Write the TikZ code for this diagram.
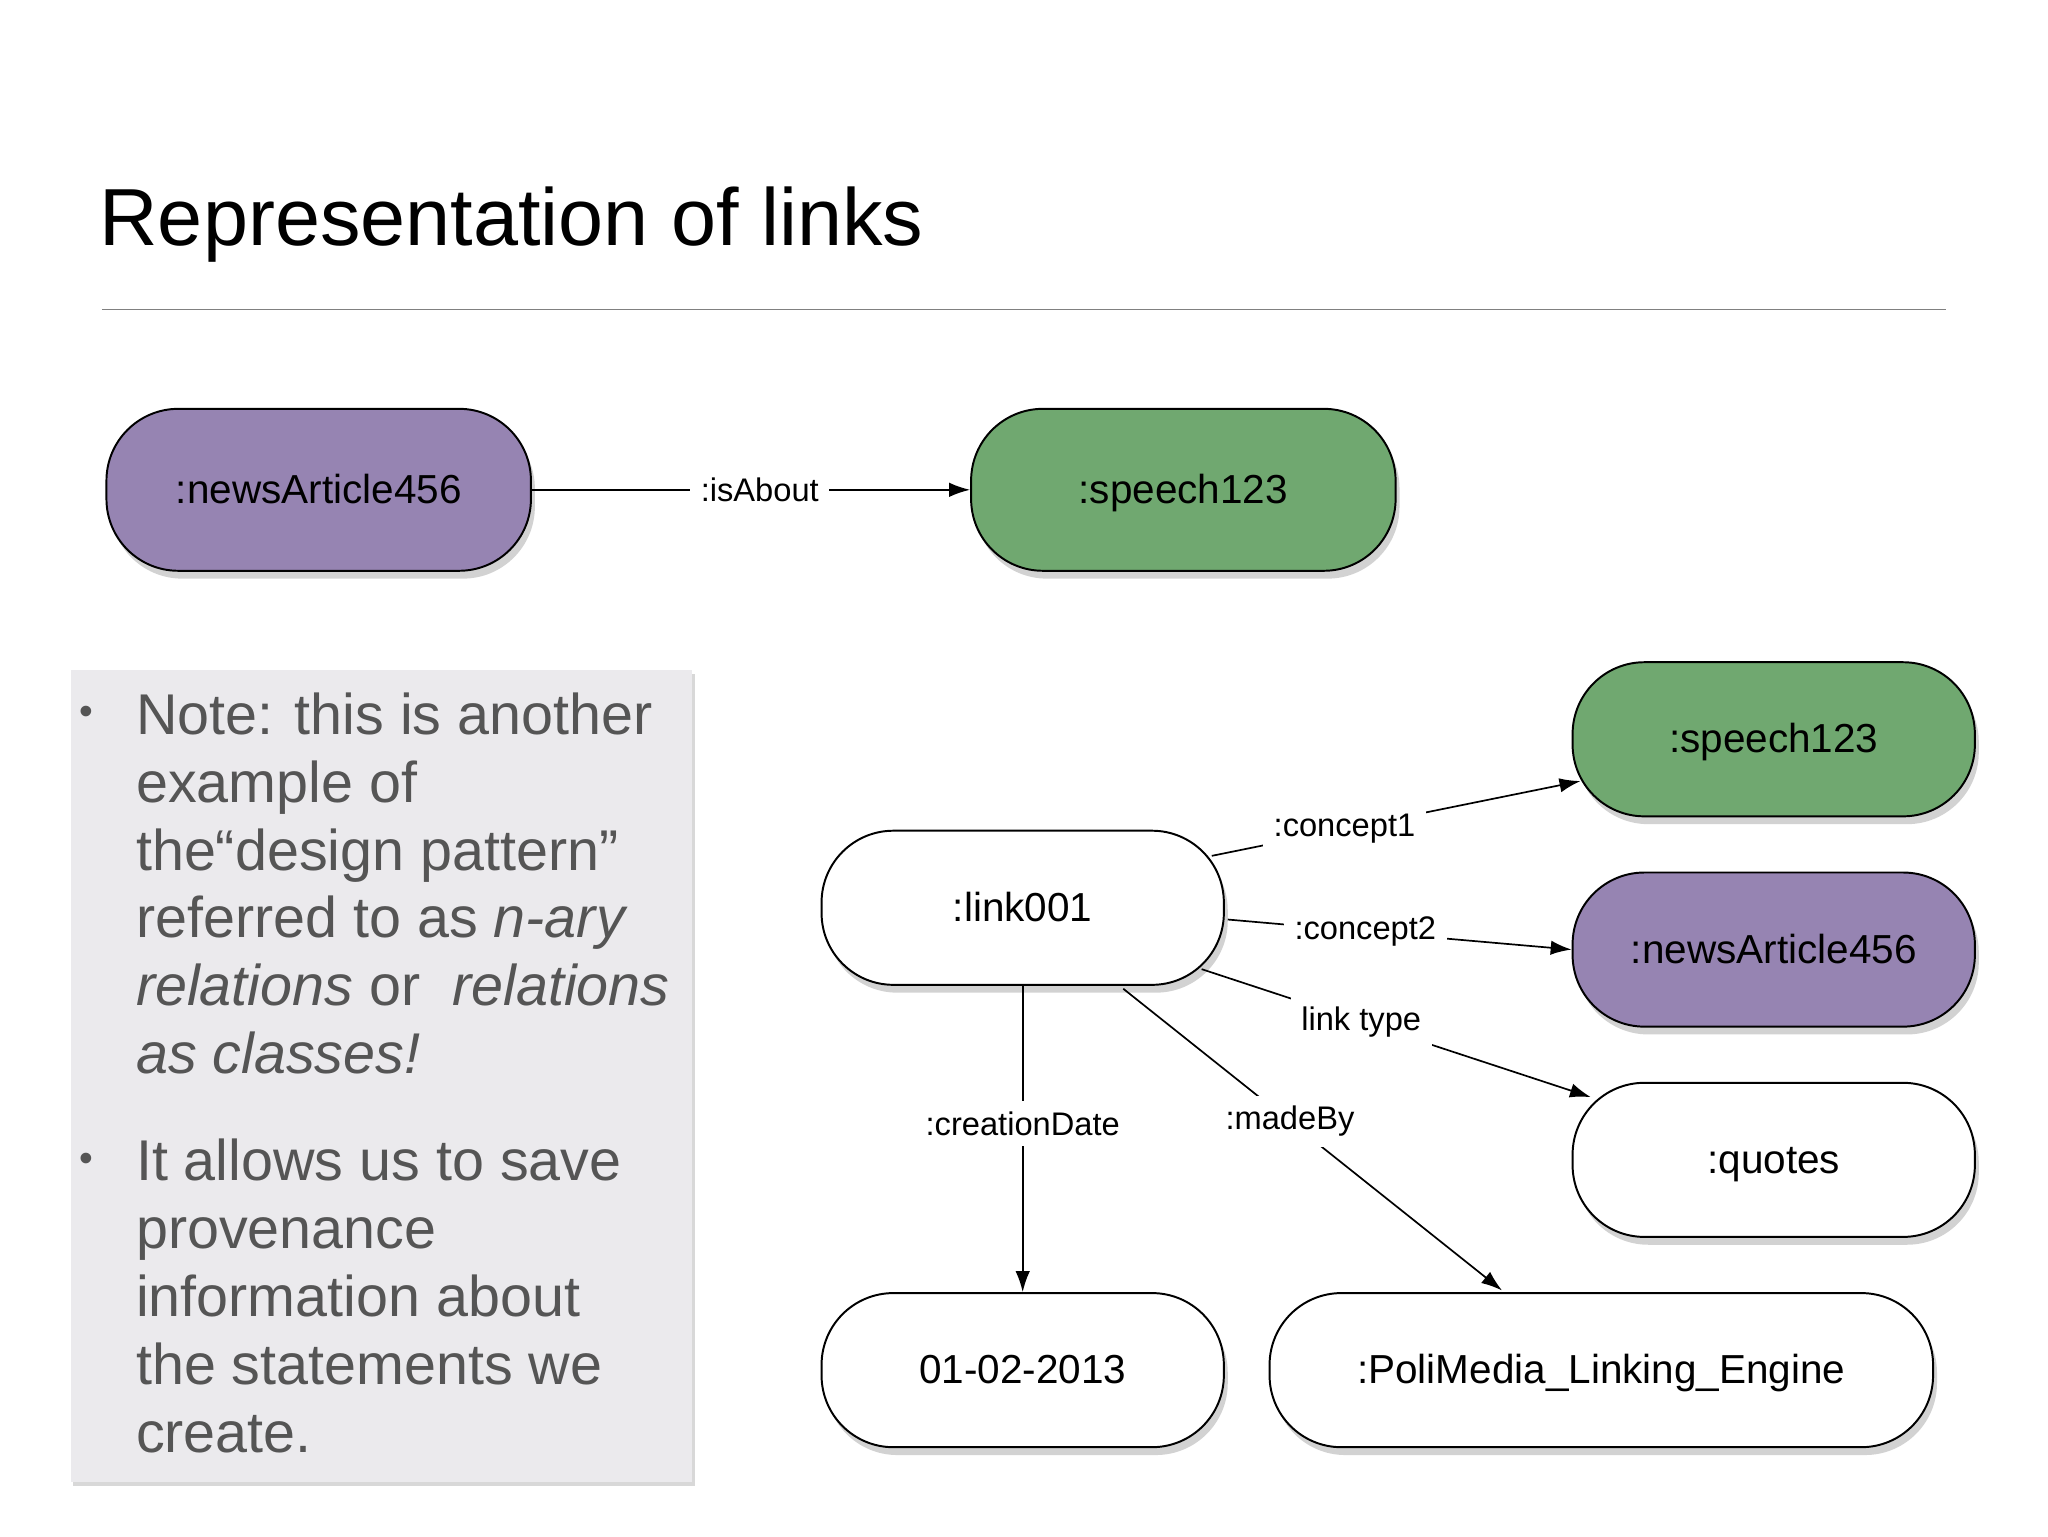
\documentclass[tikz,border=0pt]{standalone}
\usepackage{fontspec}
\setmainfont{Liberation Sans}
\usetikzlibrary{shadows,arrows.meta}
\definecolor{purp}{RGB}{150,132,178}
\definecolor{grn}{RGB}{112,168,112}
\definecolor{boxg}{RGB}{235,234,237}
\definecolor{txtg}{RGB}{85,85,85}
\begin{document}
\begin{tikzpicture}[x=1pt,y=-1pt,
  pill/.style={draw=black,line width=1.5pt,rounded corners=55pt,minimum height=118pt,minimum width=308pt,text height=22pt,text depth=1pt,font=\fontsize{31}{36}\selectfont,drop shadow={shadow xshift=3pt,shadow yshift=-6pt,opacity=0.35}},
  lbl/.style={fill=white,font=\fontsize{25}{29}\selectfont,inner sep=8pt},
  arr/.style={line width=1.3pt,-{Latex[length=16pt,width=11pt]}},
  btxt/.style={anchor=north west,align=left,text=txtg,font=\fontsize{44}{52}\selectfont,inner sep=0pt}]
\useasboundingbox (0,0) rectangle (1568,1176);
\fill[white] (0,0) rectangle (1568,1176);
\node[anchor=base west,inner sep=0pt,font=\fontsize{62}{68}\selectfont] (title) at (76,188) {Representation of links};
\draw[gray,line width=1pt] (78,237) -- (1490,237);
\node[fill=boxg,minimum width=476pt,minimum height=622pt,drop shadow={shadow xshift=2pt,shadow yshift=-3pt,opacity=0.3}] (box) at (292,824) {};
\node[text=txtg,font=\fontsize{30}{30}\selectfont] (b1) at (66,548) {•};
\node[text=txtg,font=\fontsize{30}{30}\selectfont] (b2) at (66,890) {•};
\node[btxt] (t1) at (104,530) {Note: this is another\\example of\\the“design pattern”\\referred to as \textit{n-ary}\\\textit{relations} or\ \ \textit{relations}\\\textit{as classes!}};
\node[btxt] (t2) at (104,872) {It allows us to save\\provenance\\information about\\the statements we\\create.};
\node[pill,fill=purp,minimum width=325pt,minimum height=124pt] (na1) at (244,375) {:newsArticle456};
\node[pill,fill=grn,minimum width=325pt,minimum height=124pt] (sp1) at (906,375) {:speech123};
\node[pill,fill=grn] (sp2) at (1358,566) {:speech123};
\node[pill,fill=white] (link) at (783,695) {:link001};
\node[pill,fill=purp] (na2) at (1358,727) {:newsArticle456};
\node[pill,fill=white] (quo) at (1358,888) {:quotes};
\node[pill,fill=white] (date) at (783,1049) {01-02-2013};
\node[pill,fill=white,minimum width=508pt] (eng) at (1226,1049) {:PoliMedia\_Linking\_Engine};
\draw[arr] (na1.east) -- node[lbl,pos=0.52]{:isAbout} (sp1.west);
\draw[arr] (link.north east)++(-10,20) -- node[lbl,pos=0.36]{:concept1} (1210,598);
\draw[arr] (940,704) -- node[lbl,pos=0.4]{:concept2} (na2.west);
\draw[arr] (920,742) -- node[lbl,pos=0.41]{link type} (1218,840);
\draw[arr] (860,757) -- node[lbl,pos=0.44]{:madeBy} (1150,988);
\draw[arr] (link.south) -- node[lbl,pos=0.45]{:creationDate} (date.north);
\end{tikzpicture}
\end{document}
